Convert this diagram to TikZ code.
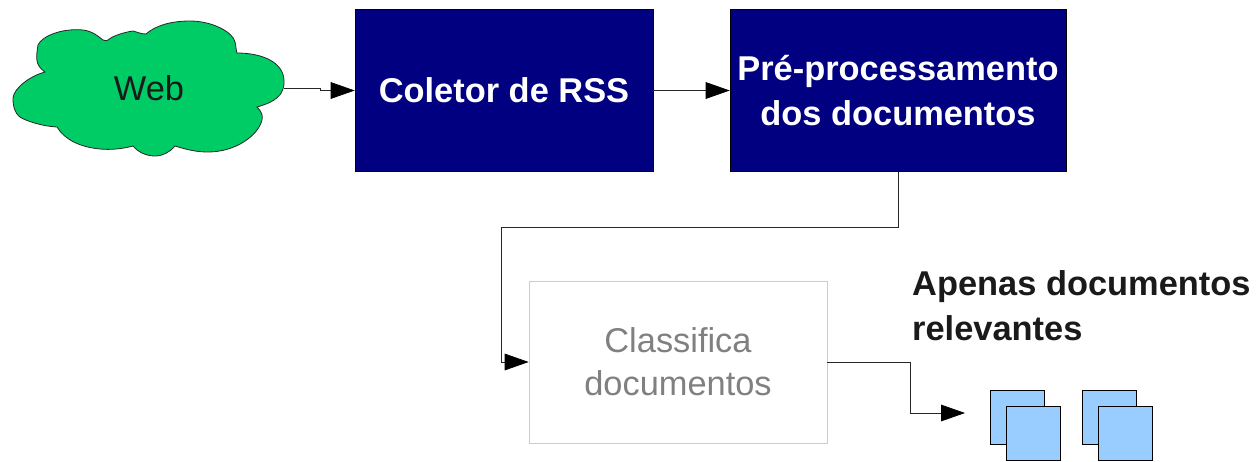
\documentclass[tikz,border=0pt]{standalone}
\usepackage{fontspec}
\setmainfont{Liberation Sans}
\usetikzlibrary{positioning,arrows.meta}

\begin{document}
\begin{tikzpicture}
  [
      x=0.75pt, y=-0.75pt,
      stage/.style={rectangle, draw=black, fill=navyblue, text=white, font=\fontsize{25.8}{33.5}\selectfont\bfseries, align=center, inner sep=0pt, minimum height=121.5pt, minimum width=#1},
      ghost/.style={rectangle, draw=boxgray, line width=0.5pt, text=textgray, font=\fontsize{25.8}{32}\selectfont, align=center, inner sep=0pt, minimum height=121.5pt, minimum width=223.5pt},
      page/.style={rectangle, draw=black, fill=pageblue, line width=0.7pt, inner sep=0pt, minimum size=40.5pt},
      flow/.style={draw=black!85, line width=0.6pt, -{Triangle[length=18pt,width=12.5pt,color=black]}},
    ]
    \definecolor{navyblue}{HTML}{000080}
    \definecolor{cloudgreen}{HTML}{00CC66}
    \definecolor{boxgray}{HTML}{CCCCCC}
    \definecolor{textgray}{HTML}{808080}
    \definecolor{pageblue}{HTML}{99CCFF}
    \definecolor{nearblack}{HTML}{1A1A1A}

    \useasboundingbox (0,0) rectangle (1257,461);

    % the cloud
    \draw [fill=cloudgreen, draw=black!85, line width=0.6pt]
      (45,72) .. controls (35,65) and (36,58) .. (38,45)
      .. controls (42,36) and (62,28) .. (83,30)
      .. controls (92,31) and (98,36) .. (103,40)
      .. controls (106,41) and (107,41) .. (108,40)
      .. controls (112,36) and (125,32) .. (133,31)
      .. controls (137,32) and (141,34) .. (146,34)
      .. controls (155,26) and (170,21) .. (190,21)
      .. controls (212,21) and (233,32) .. (235,42)
      .. controls (236,46) and (236,50) .. (237,53)
      .. controls (262,53) and (283,62) .. (284,80)
      .. controls (285,95) and (275,102) .. (257,107)
      .. controls (262,112) and (263,116) .. (262,120)
      .. controls (258,136) and (235,152) .. (208,152)
      .. controls (195,152) and (185,149) .. (175,146)
      .. controls (170,152) and (163,156) .. (155,156)
      .. controls (146,156) and (138,152) .. (133,146)
      .. controls (122,149) and (110,150) .. (100,149)
      .. controls (80,147) and (65,140) .. (57,127)
      .. controls (40,126) and (24,120) .. (20,117)
      .. controls (14,112) and (13,106) .. (13,98)
      .. controls (14,88) and (30,76) .. (45,72) -- cycle;
    \node (web) [font=\fontsize{25.8}{30}\selectfont, text=nearblack] at (149,88) {Web};
    \coordinate (webout) at (284,88);

    \node (coletor) [stage=223.5pt] at (504,90.5) {Coletor de RSS};
    \node (preproc) [stage=252pt] at (898,90.5) {Pré-processamento\\dos documentos};
    \node (classifica) [ghost] at (678,362) {Classifica\\documentos};

    \node (relevantes) [anchor=west, font=\fontsize{25.8}{33.5}\selectfont\bfseries, text=nearblack, align=left] at (907.5,306) {Apenas documentos\\relevantes};

    \node (pagea) [page] at (1017,417) {};
    \node (pageb) [page] at (1033.5,433) {};
    \node (pagec) [page] at (1109.5,417) {};
    \node (paged) [page] at (1125.5,433) {};
    \coordinate (pagesin) at (965,413);

    \draw [flow] (webout) -- (320,88) -- (320,90.5) -- (coletor.west);
    \draw [flow] (coletor.east) -- (preproc.west);
    \draw [flow] (preproc.south) -- (898,227) -- (501,227) -- (501,362) -- (classifica.west);
    \draw [flow] (classifica.east) -- (910,362) -- (910,413) -- (pagesin);

  \end{tikzpicture}
\end{document}
